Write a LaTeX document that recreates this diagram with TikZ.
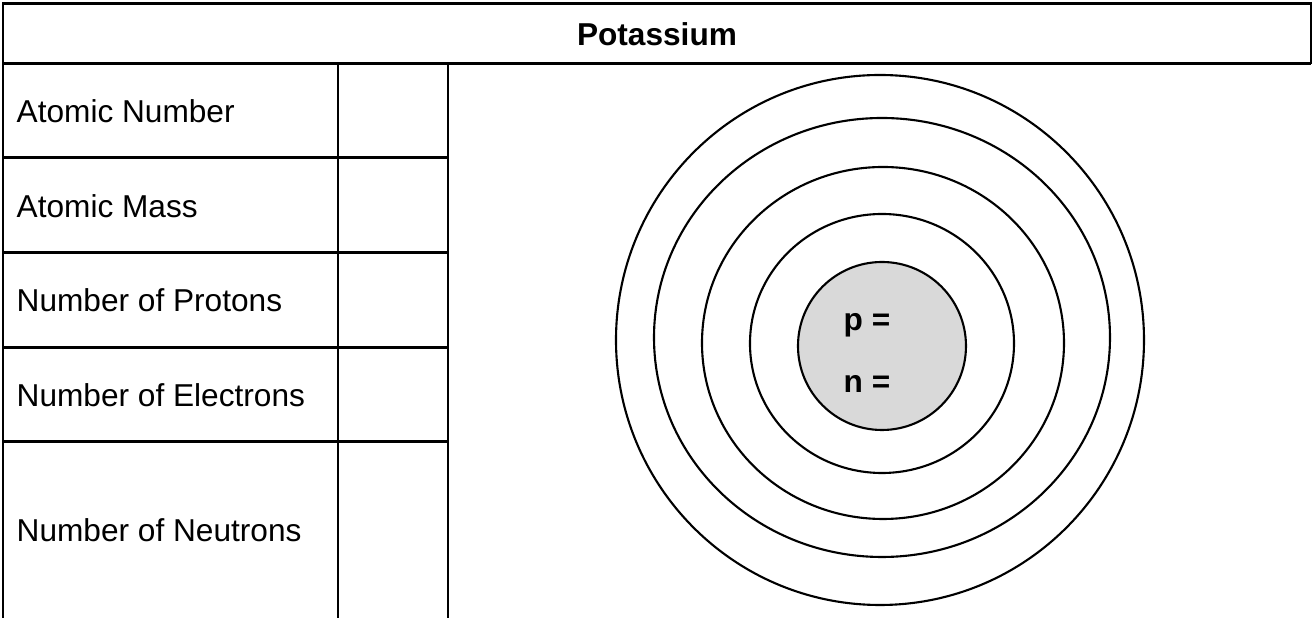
\documentclass[tikz,border=0pt]{standalone}
\usepackage{fontspec}
\setmainfont{Liberation Sans}
\definecolor{nucleusGray}{RGB}{217,217,217}
\tikzset{
  rule/.style={line width=0.85pt},
  shell/.style={line width=0.6pt},
  rowlabel/.style={anchor=west, inner sep=0pt, font=\fontsize{9}{11}\selectfont},
  boldlabel/.style={inner sep=0pt, font=\fontsize{9}{11}\selectfont\bfseries},
}
\begin{document}
\begin{tikzpicture}[x=0.1mm, y=-0.1mm]
  \useasboundingbox (0,0) rectangle (1314,618);
  % table frame
  \draw[rule] (3,618) -- (3,4) -- (1311,4) -- (1311,64);
  \draw[rule] (3,64) -- (1311,64);
  \draw[rule] (338,64) -- (338,618);
  \draw[rule] (448,64) -- (448,618);
  \foreach \y in {158,253,348,442}
    \draw[rule] (3,\y) -- (448,\y);

  \node[boldlabel] (title) at (657,34) {Potassium};
  \node[rowlabel] (anum) at (16,111) {Atomic Number};
  \node[rowlabel] (amass) at (16,206) {Atomic Mass};
  \node[rowlabel] (protons) at (16,300) {Number of Protons};
  \node[rowlabel] (electrons) at (16,395) {Number of Electrons};
  \node[rowlabel] (neutrons) at (16,530) {Number of Neutrons};

  % atom: shells, then nucleus
  \foreach \cx/\cy/\rx/\ry in {880/340/264/265, 882/337.5/228/219.5, 883/343/181/176, 882/343.5/132/129.5}
    \draw[shell] (\cx,\cy) ellipse[x radius=\rx, y radius=\ry];
  \node[circle, draw, shell, fill=nucleusGray, minimum size=16.8mm, inner sep=0pt] (nucleus) at (882,346) {};
  \node[boldlabel, anchor=west] (pval) at (843,325) {p =};
  \node[boldlabel, anchor=west] (nval) at (843,384) {n =};
\end{tikzpicture}
\end{document}
